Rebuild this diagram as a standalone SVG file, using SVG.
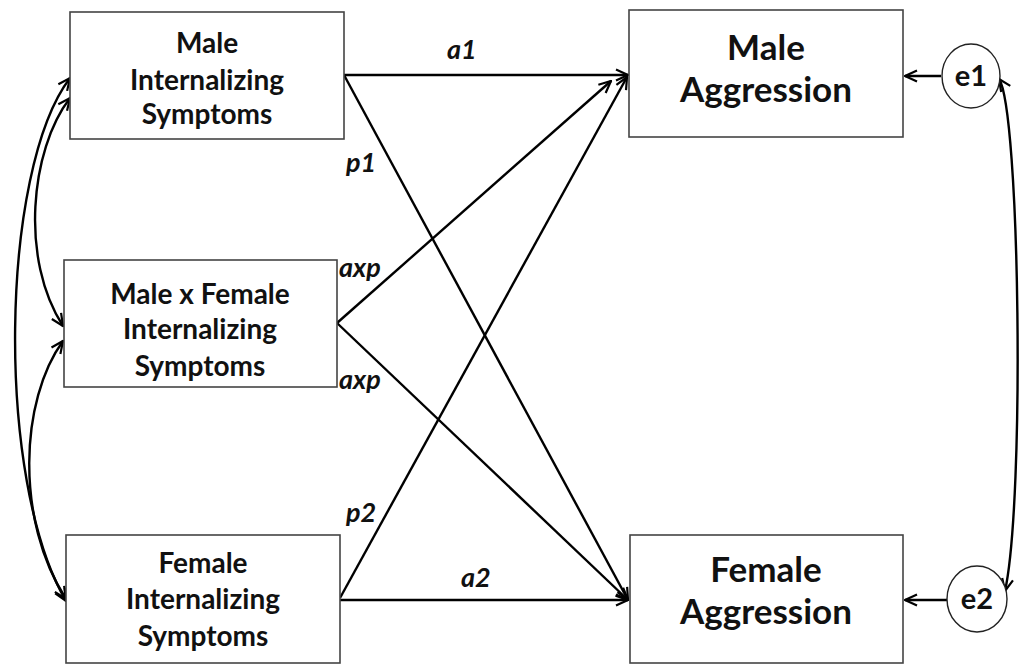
<svg xmlns="http://www.w3.org/2000/svg" width="1020" height="665" viewBox="0 0 1020 665">
<defs>
<marker id="arr" viewBox="0 0 14 14" refX="13" refY="7" markerWidth="14" markerHeight="14" markerUnits="userSpaceOnUse" orient="auto-start-reverse">
<path d="M1,1.5 L13,7 L1,12.5" fill="none" stroke="#000" stroke-width="2.2"/>
</marker>
</defs>
<style>
.box{fill:#fff;stroke:#444;stroke-width:1.6}
.err{fill:#fff;stroke:#222;stroke-width:1.4}
.t{font-family:Lato,"Liberation Sans",sans-serif;font-weight:bold;font-size:28px;fill:#111;text-anchor:middle}
.big{font-size:35px}
.e{font-size:29px}
.lab{font-family:Lato,"Liberation Sans",sans-serif;font-weight:bold;font-style:italic;font-size:27px;fill:#111}
.c{fill:none;stroke:#000;stroke-width:2.4;marker-end:url(#arr)}
.cc{fill:none;stroke:#000;stroke-width:2.4;marker-end:url(#arr);marker-start:url(#arr)}
</style>
<rect width="1020" height="665" fill="#fff"/>
<g id="connectors">
<line class="c" x1="344" y1="75" x2="628" y2="75"/>
<line class="c" x1="344" y1="75" x2="628" y2="600"/>
<line class="c" x1="337" y1="323" x2="611" y2="81"/>
<line class="c" x1="337" y1="323" x2="628" y2="600"/>
<line class="c" x1="340" y1="598" x2="627" y2="77"/>
<line class="c" x1="340" y1="600" x2="628" y2="600"/>
<line class="c" x1="941" y1="76" x2="905" y2="76"/>
<line class="c" x1="947" y1="600" x2="905" y2="600"/>
<path class="cc" d="M70,78 C0,170 -5,480 66,601"/>
<path class="cc" d="M70,98 C30,150 20,260 63,326"/>
<path class="cc" d="M63,341 C20,400 15,520 66,599"/>
<path class="cc" d="M999,79 C1020,110 1025,500 1005,591"/>
</g>
<g id="labels">
<text class="lab" x="447" y="59">a1</text>
<text class="lab" x="346" y="172">p1</text>
<text class="lab" x="339" y="277">axp</text>
<text class="lab" x="339" y="389">axp</text>
<text class="lab" x="346" y="522">p2</text>
<text class="lab" x="461" y="587">a2</text>
</g>
<g id="male-int">
<rect class="box" x="70" y="12" width="274" height="127"/>
<text class="t" x="207" y="53">Male</text>
<text class="t" x="207" y="90">Internalizing</text>
<text class="t" x="207" y="124">Symptoms</text>
</g>
<g id="mxf-int">
<rect class="box" x="64" y="260" width="273" height="127"/>
<text class="t" x="200" y="304">Male x Female</text>
<text class="t" x="200" y="339">Internalizing</text>
<text class="t" x="200" y="376">Symptoms</text>
</g>
<g id="female-int">
<rect class="box" x="66" y="535" width="274" height="128"/>
<text class="t" x="203" y="573">Female</text>
<text class="t" x="203" y="609">Internalizing</text>
<text class="t" x="203" y="646">Symptoms</text>
</g>
<g id="male-agg">
<rect class="box" x="629" y="10" width="274" height="127"/>
<text class="t big" x="766" y="60">Male</text>
<text class="t big" x="766" y="102">Aggression</text>
</g>
<g id="female-agg">
<rect class="box" x="630" y="535" width="273" height="128"/>
<text class="t big" x="766" y="582">Female</text>
<text class="t big" x="766" y="624">Aggression</text>
</g>
<g id="e1">
<ellipse class="err" cx="971" cy="76" rx="29" ry="32"/>
<text class="t e" x="971" y="86">e1</text>
</g>
<g id="e2">
<ellipse class="err" cx="977" cy="599" rx="30" ry="33"/>
<text class="t e" x="977" y="609">e2</text>
</g>
</svg>
